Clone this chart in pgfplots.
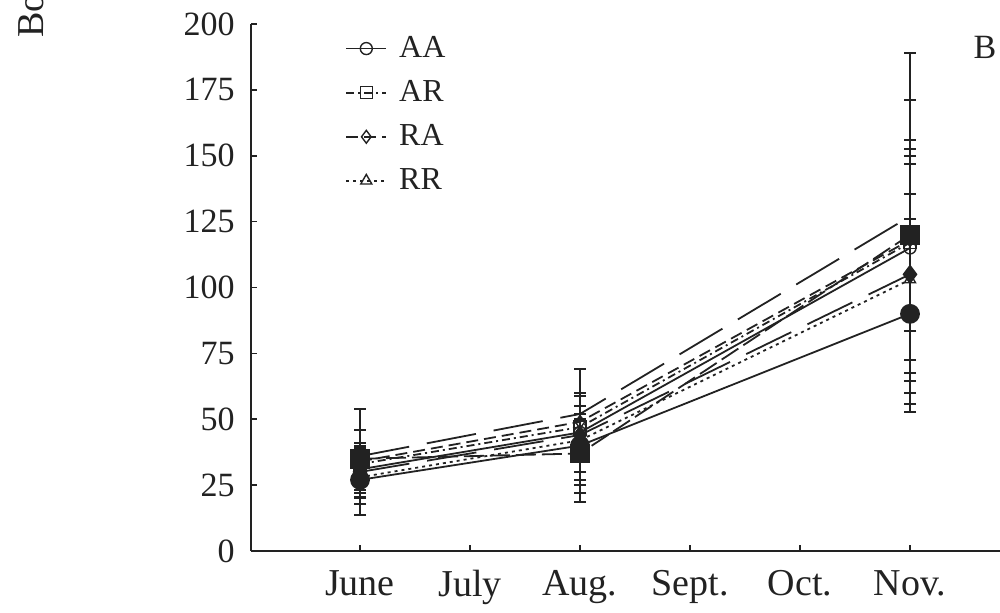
\documentclass[border=0pt]{standalone}
\usepackage{fontspec}
\setmainfont{Liberation Serif}
\usepackage{pgfplots}
\usepackage{pgfplotstable}
\pgfplotsset{compat=1.18}
\definecolor{ink}{HTML}{222222}
% x: 0=June ... 5=Nov ; y mean, ep = up error, em = down error
\pgfplotstableread{
x y ep em
0 31 9 10.5
2 45 15 18
5 115 11 31.5
}\tAA
\pgfplotstableread{
x y ep em
0 33 8 15
2 47 13 20
5 117 39 33.5
}\tAR
\pgfplotstableread{
x y ep em
0 34 5 11
2 49 10 19
5 118 34.6 45.5
}\tRA
\pgfplotstableread{
x y ep em
0 28 10 14.5
2 42 10 23.4
5 103 44 43
}\tRR
\pgfplotstableread{
x y ep em
0 36 18 15.5
2 52 17 22
5 127 62 62.5
}\tTop
\pgfplotstableread{
x y ep em
0 35 11 13
2 37 13 15
5 120 51 52.5
}\tSq
\pgfplotstableread{
x y ep em
0 30 10 10
2 44 11 19
5 105 45 49.2
}\tDia
\pgfplotstableread{
x y ep em
0 27 8 9
2 40 10 18
5 90 45.5 37.3
}\tCirc
\begin{document}
\begin{tikzpicture}
\useasboundingbox (0,0) rectangle (500bp,306.5bp);
\begin{axis}[
  at={(125.5bp,31bp)}, anchor=south west,
  scale only axis, width=374.5bp, height=263.5bp,
  xmin=-0.991, xmax=5.818, ymin=0, ymax=200,
  axis lines*=left,
  axis line style={line width=0.8bp, ink},
  xtick={0,1,2,3,4,5},
  xticklabels={June,July,Aug.,Sept.,Oct.,Nov.},
  ytick={0,25,...,200},
  tick align=inside, major tick length=3bp,
  tick style={line width=0.8bp, ink},
  /pgf/number format/assume math mode=true,
  yticklabel style={font=\fontsize{17bp}{20bp}\selectfont, text=ink, anchor=east, inner sep=0pt, xshift=-8bp},
  xticklabel style={font=\fontsize{19bp}{22bp}\selectfont, text=ink, anchor=north, inner sep=0pt, yshift=-9.5bp},
  clip=false,
  cycle list={{ink}},
  every axis plot/.append style={line width=0.9bp},
  error bars/y dir=both, error bars/y explicit,
  error bars/error bar style={line width=1bp, ink, solid},
  error bars/error mark options={rotate=90, line width=1bp, ink, solid, mark size=3bp},
  legend cell align=left,
  legend image code/.code={\draw[mark repeat=2,mark phase=2,#1] plot coordinates {(0bp,0bp) (10bp,0bp) (20bp,0bp)};},
  legend style={at={(axis description cs:0.1255,0.977)}, anchor=north west,
    draw=none, fill=none, inner sep=0pt, row sep=10bp, column sep=6bp,
    nodes={inner sep=0pt, text=ink},
    font=\fontsize{16bp}{19bp}\selectfont},
]
\addplot+[ink, solid, mark=o, mark size=3bp, mark options={solid, fill=white, line width=0.7bp}]
  table[x=x, y=y, y error plus=ep, y error minus=em]{\tAA};
\addlegendentry{AA}
\addplot+[ink, dash pattern=on 4bp off 2bp on 1bp off 2bp, mark=square, mark size=3bp, mark options={solid, fill=white, line width=0.7bp}]
  table[x=x, y=y, y error plus=ep, y error minus=em]{\tAR};
\addlegendentry{AR}
\addplot+[ink, dash pattern=on 6bp off 3bp, mark=diamond, mark size=3.2bp, mark options={solid, fill=white, line width=0.7bp}]
  table[x=x, y=y, y error plus=ep, y error minus=em]{\tRA};
\addlegendentry{RA}
\addplot+[ink, dash pattern=on 1.5bp off 2bp, mark=triangle, mark size=3.2bp, mark options={solid, fill=white, line width=0.7bp}]
  table[x=x, y=y, y error plus=ep, y error minus=em]{\tRR};
\addlegendentry{RR}
\addplot+[ink, forget plot, dash pattern=on 25bp off 9bp, mark=none]
  table[x=x, y=y, y error plus=ep, y error minus=em]{\tTop};
\addplot+[ink, forget plot, dash pattern=on 10bp off 3bp, mark=square*, mark size=4.5bp, mark options={solid, fill=ink}]
  table[x=x, y=y, y error plus=ep, y error minus=em]{\tSq};
\addplot+[ink, forget plot, dash pattern=on 25bp off 9bp, mark=diamond*, mark size=4.2bp, mark options={solid, fill=ink}]
  table[x=x, y=y, y error plus=ep, y error minus=em]{\tDia};
\addplot+[ink, forget plot, solid, mark=*, mark size=4.5bp, mark options={solid, fill=ink}]
  table[x=x, y=y, y error plus=ep, y error minus=em]{\tCirc};
\node[font=\fontsize{17bp}{20bp}\selectfont, text=ink] at (axis description cs:0.980,0.956) {B};
\end{axis}
\node[rotate=90, anchor=base west, inner sep=0pt, font=\fontsize{19bp}{22bp}\selectfont, text=ink] at (21.5bp,287.5bp) {Bo};
\end{tikzpicture}
\end{document}
